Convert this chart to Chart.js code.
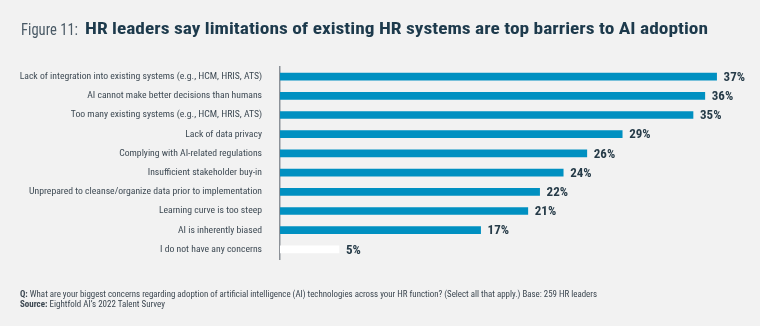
<!DOCTYPE html>
<html>
<head>
<meta charset="utf-8">
<script src="https://cdn.jsdelivr.net/npm/chart.js@4.4.0/dist/chart.umd.min.js"></script>
<style>
  html, body { margin: 0; padding: 0; background: #f2f2f2; }
  #page { position: relative; width: 760px; height: 326px; overflow: hidden; font-family: "Roboto Condensed", Roboto, sans-serif; }
  #chart { position: absolute; left: 0; top: 0; width: 760px; height: 326px; }
  .line { position: absolute; white-space: nowrap; transform-origin: 0 0; }
  #fig { left: 21px; top: 20px; font-size: 16px; color: #4a5a66; }
  #title { left: 85px; top: 18px; font-size: 17px; font-weight: bold; color: #1d3a4c; }
  #q { left: 20px; top: 289px; font-size: 9px; color: #3b4650; }
  #src { left: 20px; top: 299px; font-size: 9px; color: #3b4650; }
</style>
</head>
<body>
<div id="page">
  <canvas id="chart" width="760" height="326"></canvas>
  <div class="line" id="fig" data-w="57">Figure 11:</div>
  <div class="line" id="title" data-w="623">HR leaders say limitations of existing HR systems are top barriers to AI adoption</div>
  <div class="line" id="q" data-w="577"><b>Q:</b> What are your biggest concerns regarding adoption of artificial intelligence (AI) technologies across your HR function? (Select all that apply.) Base: 259 HR leaders</div>
  <div class="line" id="src" data-w="145"><b>Source:</b> Eightfold AI’s 2022 Talent Survey</div>
</div>
<script>
var concerns = [
  'Lack of integration into existing systems (e.g., HCM, HRIS, ATS)',
  'AI cannot make better decisions than humans',
  'Too many existing systems (e.g., HCM, HRIS, ATS)',
  'Lack of data privacy',
  'Complying with AI-related regulations',
  'Insufficient stakeholder buy-in',
  'Unprepared to cleanse/organize data prior to implementation',
  'Learning curve is too steep',
  'AI is inherently biased',
  'I do not have any concerns'
];
var shares = [37, 36, 35, 29, 26, 24, 22, 21, 17, 5];
var barColors = ['#0090c1', '#0090c1', '#0090c1', '#0090c1', '#0090c1', '#0090c1', '#0090c1', '#0090c1', '#0090c1', '#ffffff'];

// fit the html text lines to their set widths
document.querySelectorAll('.line[data-w]').forEach(function(el) {
  var w = el.getBoundingClientRect().width;
  el.style.transform = 'scaleX(' + (parseFloat(el.dataset.w) / w) + ')';
});

var valueLabels = {
  id: 'valueLabels',
  afterDatasetsDraw: function(chart) {
    var ctx = chart.ctx;
    var meta = chart.getDatasetMeta(0);
    ctx.save();
    ctx.font = 'bold 13px "Roboto Condensed"';
    ctx.fillStyle = '#263b48';
    ctx.textBaseline = 'middle';
    meta.data.forEach(function(bar, i) {
      ctx.fillText(shares[i] + '%', bar.x + 7, bar.y + 1);
    });
    ctx.restore();
  }
};

new Chart(document.getElementById('chart'), {
  type: 'bar',
  data: {
    labels: concerns,
    datasets: [{
      data: shares,
      backgroundColor: barColors,
      barThickness: 7,
      borderWidth: 0
    }]
  },
  options: {
    indexAxis: 'y',
    responsive: false,
    animation: false,
    layout: { padding: { left: 0, right: 8, top: 67, bottom: 67 } },
    plugins: { legend: { display: false }, tooltip: { enabled: false } },
    scales: {
      x: { display: false, min: 0, max: 40 },
      y: {
        afterFit: function(scale) { scale.width = 280; },
        grid: { display: false, drawTicks: false },
        border: { display: true, color: '#8c9198', width: 1.5 },
        ticks: { padding: 18, color: '#3e4a54', font: { family: '"Roboto Condensed"', size: 9.7 } }
      }
    }
  },
  plugins: [valueLabels]
});
</script>
</body>
</html>
